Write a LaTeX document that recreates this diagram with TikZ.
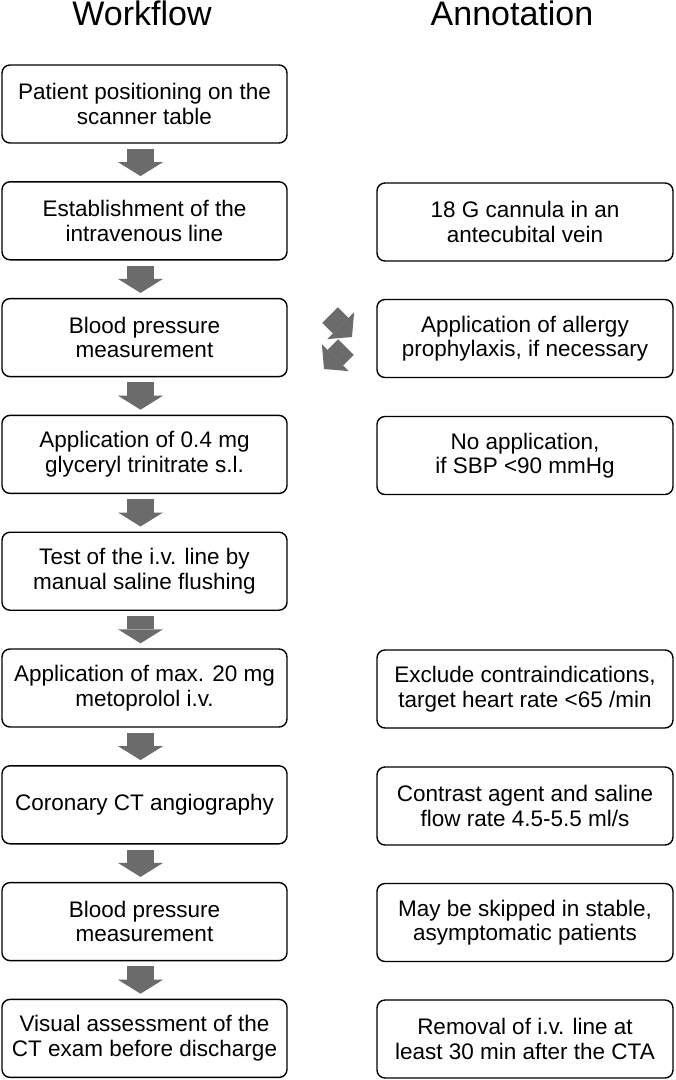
\documentclass[tikz,border=0pt]{standalone}
\usepackage{fontspec}
\setmainfont{Liberation Sans}
\usetikzlibrary{arrows.meta}
\definecolor{arrowgray}{HTML}{6B6B6B}
\tikzset{
  wfbox/.style={draw, line width=1.4pt, rounded corners=8pt, minimum width=285pt, minimum height=78pt,
    align=center, inner sep=2pt, font=\fontsize{22.5}{24.5}\selectfont},
  anbox/.style={wfbox, minimum width=296pt},
  heading/.style={anchor=base, font=\fontsize{34}{40}\selectfont},
  flowarrow/.style={draw=arrowgray, line width=27pt, -{Triangle[length=14pt, width=45pt, line width=0pt]}},
  swaparrow/.style={draw=arrowgray, line width=22pt, -{Triangle[length=16pt, width=38pt, line width=0pt]}},
}
\begin{document}
\begin{tikzpicture}[x=1pt, y=-1pt]
        \useasboundingbox (0,0) rectangle (676,1080);
        \node[heading] (hwf) at (142,25) {Workflow};
        \node[heading] (han) at (512,25) {Annotation};

        \node[wfbox] (wf1) at (144.5,104) {Patient positioning on the\\scanner table};
        \node[wfbox] (wf2) at (144.5,220.8) {Establishment of the\\intravenous line};
        \node[wfbox] (wf3) at (144.5,337.6) {Blood pressure\\measurement};
        \node[wfbox] (wf4) at (144.5,454.4) {Application of 0.4 mg\\glyceryl trinitrate s.l.};
        \node[wfbox] (wf5) at (144.5,571.2) {Test of the i.v. line by\\manual saline flushing};
        \node[wfbox] (wf6) at (144.5,688) {Application of max. 20 mg\\metoprolol i.v.};
        \node[wfbox] (wf7) at (144.5,804.8) {Coronary CT angiography};
        \node[wfbox] (wf8) at (144.5,921.6) {Blood pressure\\measurement};
        \node[wfbox] (wf9) at (144.5,1038.4) {Visual assessment of the\\CT exam before discharge};

        \node[anbox] (an2) at (525,222) {18 G cannula in an\\antecubital vein};
        \node[anbox] (an3) at (525,338.5) {Application of allergy\\prophylaxis, if necessary};
        \node[anbox] (an4) at (525,455.5) {No application,\\if SBP <90 mmHg};
        \node[anbox] (an6) at (525,689) {Exclude contraindications,\\target heart rate <65 /min};
        \node[anbox] (an7) at (525,806) {Contrast agent and saline\\flow rate 4.5-5.5 ml/s};
        \node[anbox] (an8) at (525,922.5) {May be skipped in stable,\\asymptomatic patients};
        \node[anbox] (an9) at (525,1039) {Removal of i.v. line at\\least 30 min after the CTA};

        \draw[flowarrow] ([xshift=-4pt,yshift=-5pt]wf1.south) -- ([xshift=-4pt,yshift=5pt]wf2.north);
        \draw[flowarrow] ([xshift=-4pt,yshift=-5pt]wf2.south) -- ([xshift=-4pt,yshift=5pt]wf3.north);
        \draw[flowarrow] ([xshift=-4pt,yshift=-5pt]wf3.south) -- ([xshift=-4pt,yshift=5pt]wf4.north);
        \draw[flowarrow] ([xshift=-4pt,yshift=-5pt]wf4.south) -- ([xshift=-4pt,yshift=5pt]wf5.north);
        \draw[flowarrow] ([xshift=-4pt,yshift=-5pt]wf5.south) -- ([xshift=-4pt,yshift=5pt]wf6.north);
        \draw[flowarrow] ([xshift=-4pt,yshift=-5pt]wf6.south) -- ([xshift=-4pt,yshift=5pt]wf7.north);
        \draw[flowarrow] ([xshift=-4pt,yshift=-5pt]wf7.south) -- ([xshift=-4pt,yshift=5pt]wf8.north);
        \draw[flowarrow] ([xshift=-4pt,yshift=-5pt]wf8.south) -- ([xshift=-4pt,yshift=5pt]wf9.north);

        \coordinate (sw1) at (330,315);
        \coordinate (sw2) at (352,337);
        \coordinate (sw3) at (346,347);
        \coordinate (sw4) at (324,369);
        \draw[swaparrow] (sw1) -- (sw2);
        \draw[swaparrow] (sw3) -- (sw4);
      \end{tikzpicture}
\end{document}
